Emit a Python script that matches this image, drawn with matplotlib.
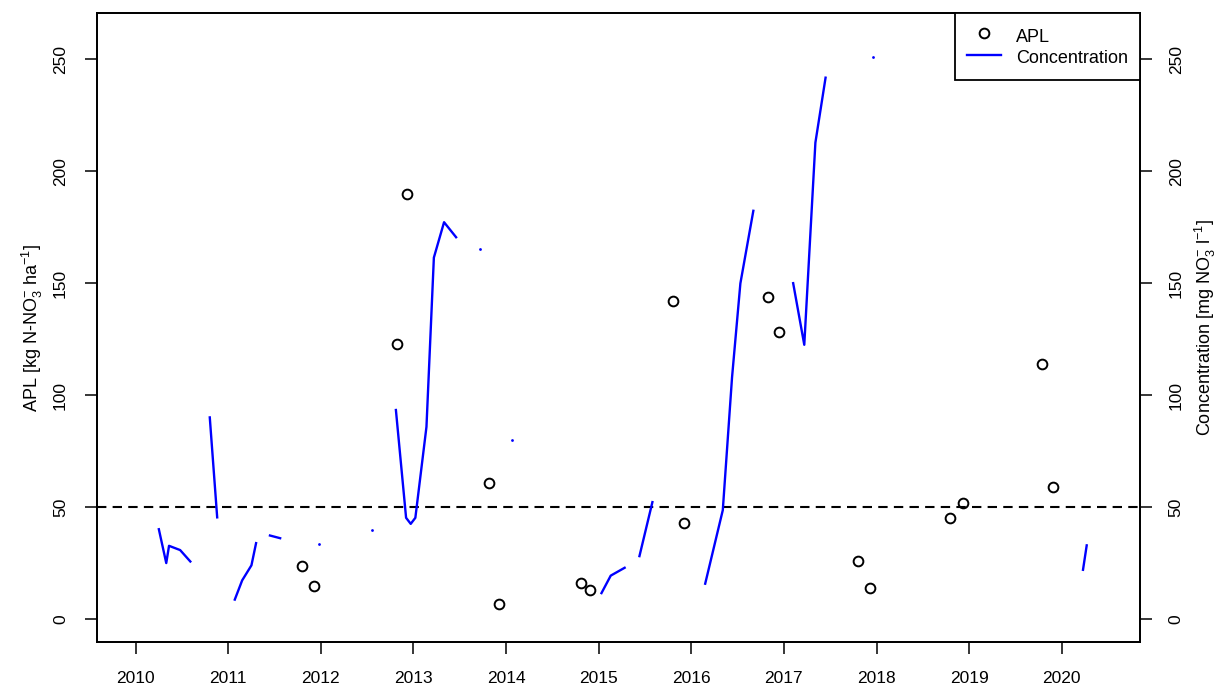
import numpy as np
import matplotlib.pyplot as plt
from matplotlib.lines import Line2D

plt.rcParams['font.family'] = ['Liberation Sans', 'DejaVu Sans']
plt.rcParams['mathtext.fontset'] = 'custom'
plt.rcParams['mathtext.rm'] = 'Liberation Sans'
plt.rcParams['mathtext.it'] = 'Liberation Sans:italic'
plt.rcParams['mathtext.bf'] = 'Liberation Sans:bold'

# APL, two samplings per year (autumn / early winter)
apl_t = [2011.80, 2011.93, 2012.82, 2012.93, 2013.82, 2013.92, 2014.81, 2014.91,
         2015.80, 2015.92, 2016.83, 2016.95, 2017.80, 2017.93, 2018.79, 2018.93,
         2019.79, 2019.91]
apl = [24, 15, 123, 190, 61, 7, 16, 13, 142, 43, 144, 128, 26, 14, 45, 52, 114, 59]

# nitrate concentration in leachate, NaN = no sample
conc_t = [2010.25, 2010.33, 2010.36, 2010.48, 2010.59, 2010.70, 2010.80, 2010.88,
          2010.97, 2011.07, 2011.15, 2011.25, 2011.30, 2011.38, 2011.45, 2011.56,
          2011.75, 2011.98, 2012.30, 2012.55, 2012.70, 2012.81, 2012.92, 2012.97,
          2013.02, 2013.14, 2013.22, 2013.33, 2013.46, 2013.60, 2013.72, 2013.90,
          2014.06, 2014.50, 2015.03, 2015.13, 2015.28, 2015.36, 2015.44, 2015.58,
          2015.90, 2016.15, 2016.34, 2016.44, 2016.53, 2016.67, 2016.90, 2017.10,
          2017.22, 2017.34, 2017.45, 2017.70, 2017.96, 2019.00, 2020.23, 2020.27]
conc = [40.2, 25.1, 32.8, 30.9, 25.8, np.nan, 90.1, 45.5,
        np.nan, 8.8, 17.4, 24.1, 34.0, np.nan, 37.4, 36.2,
        np.nan, 33.4, np.nan, 40.0, np.nan, 93.4, 45.3, 42.6,
        45.3, 85.9, 161.4, 177.2, 170.5, np.nan, 165.2, np.nan,
        80.2, np.nan, 11.7, 19.5, 23.0, np.nan, 28.2, 52.3,
        np.nan, 15.9, 48.7, 108.0, 149.9, 182.3, np.nan, 150.0,
        122.5, 212.7, 241.7, np.nan, 250.9, np.nan, 22.1, 33.0]

limit = 50
years = list(range(2010, 2021))
yticks = [0, 50, 100, 150, 200, 250]

ct = np.array(conc_t)
cv = np.array(conc)
# single samples between gaps get drawn as dots
prev_nan = np.r_[True, np.isnan(cv[:-1])]
next_nan = np.r_[np.isnan(cv[1:]), True]
single = ~np.isnan(cv) & prev_nan & next_nan

fig = plt.figure(figsize=(12.18, 6.88), dpi=100)
ax = fig.add_axes([0.0794, 0.0664, 0.8566, 0.9142])
ax.plot(apl_t, apl, 'o', mfc='none', mec='black', ms=7, mew=1.4, zorder=3)
ax.axhline(limit, color='black', lw=1.5, dashes=(4.5, 3))
ax.set_xlim(2009.579, 2020.846)
ax.set_ylim(-10.26, 270.4)
ax.set_xticks(years)
ax.set_yticks(yticks)
ax.set_ylabel('APL [kg N-NO$_3^{-}$ ha$^{-1}$]', fontsize=13, labelpad=6)

ax2 = ax.twinx()
ax2.plot(ct, cv, color='#0000ff', lw=1.7)
ax2.plot(ct[single], cv[single], 'o', color='#0000ff', ms=2, mew=0)
ax2.set_ylim(-10.26, 270.4)
ax2.set_yticks(yticks)
ax2.set_ylabel('Concentration [mg NO$_3^{-}$ l$^{-1}$]', fontsize=13, labelpad=7)

for a in (ax, ax2):
    a.tick_params(direction='out', length=8.6, width=1.1, pad=12, labelsize=12.5)
    for s in a.spines.values():
        s.set_linewidth(1.3)
for lab in ax.get_yticklabels() + ax2.get_yticklabels():
    lab.set_rotation(90)
    lab.set_va('center')

handles = [Line2D([], [], ls='none', marker='o', mfc='none', mec='black', ms=7, mew=1.4),
           Line2D([], [], color='#0000ff', lw=1.7)]
leg = ax2.legend(handles, ['APL', 'Concentration'], loc='upper right', fontsize=13,
                 borderaxespad=0, fancybox=False, framealpha=1, edgecolor='black',
                 handlelength=1.9, handleheight=1.45, handletextpad=0.85,
                 labelspacing=0.0, borderpad=0.65)
leg.get_frame().set_linewidth(1.3)

fig.savefig('out.png', dpi=100)
